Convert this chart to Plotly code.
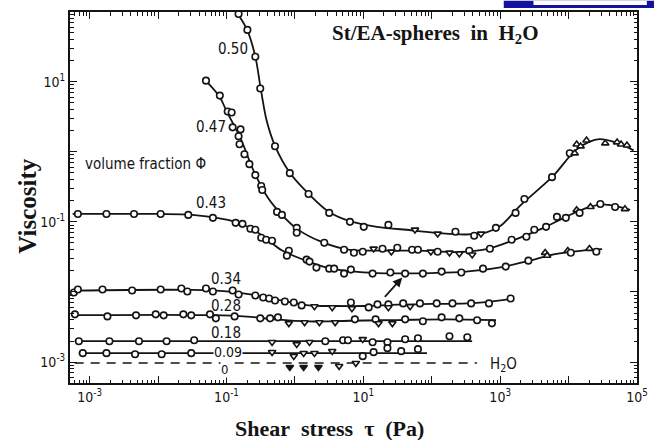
import math
import plotly.graph_objects as go

# ---- measured data: log10(shear stress / Pa), log10(viscosity / Pa s) ----
# symbol codes: o = circle, v = triangle-down, ^ = triangle-up, V = filled triangle-down

lt_050 = [-0.824, -0.695, -0.579, -0.507, -0.291, -0.075, 0.199, 0.501, 0.804, 1.006, 1.366,
          1.755, 2.086, 2.346, 2.620, 2.720, 2.937, 3.225, 3.354, 3.758, 4.017, 4.089, 4.118,
          4.176, 4.262, 4.536, 4.709, 4.767, 4.853]
lv_050 = [1.965, 1.738, 1.355, 0.901, 0.078, -0.305, -0.603, -0.872, -1.000, -1.071, -1.043,
          -1.113, -1.170, -1.142, -1.199, -1.170, -1.085, -0.872, -0.674, -0.362, -0.021, -0.021,
          0.106, 0.078, 0.163, 0.121, 0.135, 0.106, 0.092]
sym_050 = "ooooooooooovvoovooooo^^^^^^^^"

lt_047 = [-1.300, -1.098, -0.983, -0.925, -0.911, -0.795, -0.824, -0.810, -0.738, -0.666, -0.579,
          -0.493, -0.478, -0.262, -0.190, 0.026, 0.026, 0.429, 0.718, 0.862, 0.991, 1.150, 1.280,
          1.409, 1.496, 1.712, 1.798, 1.986, 2.086, 2.259, 2.403, 2.548, 2.591, 2.850, 3.167,
          3.383, 3.499, 3.671, 3.830, 3.960, 4.118, 4.161, 4.320, 4.464, 4.680, 4.824]
lv_047 = [1.014, 0.801, 0.574, 0.560, 0.348, 0.319, 0.220, 0.106, -0.035, -0.177, -0.333,
          -0.489, -0.546, -0.858, -0.901, -1.085, -1.156, -1.298, -1.397, -1.440, -1.426, -1.383,
          -1.383, -1.426, -1.369, -1.397, -1.397, -1.426, -1.426, -1.440, -1.454, -1.411, -1.468,
          -1.383, -1.255, -1.213, -1.113, -1.071, -0.929, -0.943, -0.830, -0.872, -0.787, -0.745,
          -0.787, -0.816]
sym_047 = "ooooooooooooooooooooovovooovovvovooooooo^o^oo^^"

lt_043 = [-3.173, -2.755, -2.352, -1.963, -1.559, -1.199, -0.867, -0.767, -0.651, -0.579, -0.493,
          -0.421, -0.334, -0.089, -0.118, 0.170, 0.213, 0.314, 0.501, 0.573, 0.718, 0.818, 1.135,
          1.395, 1.611, 1.870, 2.144, 2.432, 2.749, 3.081, 3.412, 3.657, 3.686, 3.988, 4.032,
          4.305, 4.406]
lv_043 = [-0.887, -0.887, -0.887, -0.887, -0.901, -0.943, -1.014, -1.028, -1.099, -1.113, -1.227,
          -1.255, -1.270, -1.411, -1.482, -1.539, -1.567, -1.652, -1.667, -1.667, -1.738, -1.681,
          -1.738, -1.723, -1.738, -1.738, -1.709, -1.723, -1.667, -1.638, -1.553, -1.440, -1.482,
          -1.411, -1.440, -1.383, -1.426]
sym_043 = "ooooooooooooooooooooooooooooooo^^^o^o"

lt_034 = [-3.231, -3.173, -2.813, -2.380, -1.963, -1.660, -1.573, -1.300, -1.199, -0.911, -0.824,
          -0.579, -0.464, -0.378, -0.291, -0.147, -0.017, 0.098, 0.285, 0.545, 0.818, 0.833, 1.078,
          1.207, 1.366, 1.366, 1.582, 1.683, 1.827, 2.072, 2.303, 2.576, 2.836, 3.153]
lv_034 = [-2.007, -1.965, -1.965, -1.979, -1.965, -1.950, -1.993, -1.950, -1.993, -1.979, -2.035,
          -2.050, -2.078, -2.092, -2.121, -2.135, -2.149, -2.191, -2.206, -2.220, -2.149, -2.234,
          -2.220, -2.177, -2.177, -2.220, -2.163, -2.206, -2.163, -2.163, -2.163, -2.163, -2.163,
          -2.092]
sym_034 = "oooooooooooooooooovvovooovovoooooo"

lt_028 = [-3.216, -2.741, -2.323, -2.035, -1.919, -1.631, -1.516, -1.242, -1.156, -0.882, -0.507,
          -0.363, -0.248, -0.089, 0.141, 0.357, 0.588, 0.876, 1.179, 1.222, 1.424, 1.611, 1.870,
          2.144, 2.403, 2.663, 2.879]
lv_028 = [-2.319, -2.348, -2.333, -2.319, -2.333, -2.319, -2.333, -2.319, -2.376, -2.348, -2.376,
          -2.376, -2.362, -2.447, -2.433, -2.433, -2.433, -2.390, -2.390, -2.447, -2.447, -2.390,
          -2.418, -2.362, -2.376, -2.404, -2.447]
sym_028 = "ooooooooooooovvvvoovvoooooov"

lt_018 = [-3.159, -2.712, -2.280, -1.876, -1.473, -0.334, 0.026, 0.213, 0.444, 0.703, 0.775,
          0.991, 1.135, 1.352, 1.611, 1.798, 2.259, 2.519]
lv_018 = [-2.702, -2.702, -2.702, -2.702, -2.688, -2.716, -2.745, -2.716, -2.702, -2.688, -2.688,
          -2.674, -2.716, -2.716, -2.674, -2.660, -2.631, -2.645]
sym_018 = "ooooovvvooovoooooo"

lt_009 = [-3.101, -2.755, -2.337, -1.948, -1.516, -0.334, -0.017, 0.127, 0.285, 0.545, 0.991,
          1.150, 1.352, 1.553, 1.798]
lv_009 = [-2.872, -2.872, -2.887, -2.887, -2.872, -2.858, -2.915, -2.872, -2.872, -2.844, -2.915,
          -2.858, -2.801, -2.844, -2.815]
sym_009 = "ooooovvvvvooooo"

lt_h2o = [-0.075, 0.127, 0.343, 0.646, 0.890]
lv_h2o = [-3.071, -3.071, -3.071, -3.057, -3.014]
sym_h2o = "VVVvv"

# ---- smooth fitted curves drawn through each data set ----
fit_050_t = [-0.86, -0.70, -0.58, -0.50, -0.41, -0.29, -0.075, 0.2, 0.5, 0.8, 1.2, 1.7, 2.1,
             2.5, 2.8, 3.0, 3.3, 3.76, 4.1, 4.3, 4.45, 4.7, 4.95]
fit_050_v = [2.0, 1.74, 1.36, 0.90, 0.43, 0.08, -0.30, -0.60, -0.86, -0.99, -1.07, -1.12, -1.16,
             -1.18, -1.15, -1.06, -0.76, -0.36, 0.02, 0.14, 0.18, 0.13, 0.02]
fit_047_t = [-1.30, -1.10, -1.0, -0.8, -0.6, -0.4, -0.2, 0.03, 0.4, 0.8, 1.2, 1.8, 2.4, 2.8,
             3.2, 3.6, 4.0, 4.3, 4.5, 4.7, 4.9]
fit_047_v = [1.01, 0.78, 0.58, 0.20, -0.28, -0.65, -0.89, -1.10, -1.29, -1.40, -1.41, -1.41,
             -1.43, -1.39, -1.26, -1.10, -0.91, -0.79, -0.75, -0.78, -0.83]
fit_043_t = [-3.25, -2.0, -1.5, -1.1, -0.8, -0.5, -0.2, 0.1, 0.5, 1.0, 1.5, 2.0, 2.5, 3.0, 3.4,
             3.8, 4.2, 4.49]
fit_043_v = [-0.887, -0.887, -0.90, -0.95, -1.02, -1.18, -1.40, -1.53, -1.66, -1.72, -1.735,
             -1.73, -1.71, -1.65, -1.56, -1.46, -1.41, -1.39]
fit_034_t = [-3.25, -1.5, -1.0, -0.6, -0.2, 0.2, 0.6, 1.0, 1.5, 2.0, 2.6, 3.15]
fit_034_v = [-1.98, -1.97, -1.99, -2.04, -2.12, -2.19, -2.20, -2.20, -2.18, -2.17, -2.16, -2.10]
fit_028_t = [-3.25, -1.2, -0.7, -0.3, 0.2, 0.8, 1.5, 2.2, 2.94]
fit_028_v = [-2.33, -2.33, -2.35, -2.39, -2.42, -2.41, -2.40, -2.39, -2.40]
fit_018_t = [-3.22, 2.59]
fit_018_v = [-2.702, -2.702]
fit_009_t = [-3.16, 1.93]
fit_009_v = [-2.872, -2.872]
water_t = [-3.22, 2.66]
water_v = [-3.014, -3.014]

INK = "#141414"
SYM = {"o": ("circle", "white"), "v": ("triangle-down", "white"),
       "^": ("triangle-up", "white"), "V": ("triangle-down", INK)}


def tenpow(vals):
    return [10 ** v for v in vals]


fig = go.Figure()

curves = [(fit_050_t, fit_050_v), (fit_047_t, fit_047_v), (fit_043_t, fit_043_v),
          (fit_034_t, fit_034_v), (fit_028_t, fit_028_v), (fit_018_t, fit_018_v),
          (fit_009_t, fit_009_v)]
for ct, cv in curves:
    fig.add_trace(go.Scatter(x=tenpow(ct), y=tenpow(cv), mode="lines",
                             line=dict(color=INK, width=1.8, shape="spline", smoothing=1.0),
                             hoverinfo="skip"))

fig.add_trace(go.Scatter(x=tenpow(water_t), y=tenpow(water_v), mode="lines",
                         line=dict(color=INK, width=1.5, dash="9px,7px"), hoverinfo="skip"))

series = [(lt_050, lv_050, sym_050), (lt_047, lv_047, sym_047), (lt_043, lv_043, sym_043),
          (lt_034, lv_034, sym_034), (lt_028, lv_028, sym_028), (lt_018, lv_018, sym_018),
          (lt_009, lv_009, sym_009), (lt_h2o, lv_h2o, sym_h2o)]
for st, sv, codes in series:
    fig.add_trace(go.Scatter(
        x=tenpow(st), y=tenpow(sv), mode="markers",
        marker=dict(symbol=[SYM[c][0] for c in codes], color=[SYM[c][1] for c in codes],
                    size=6.5, line=dict(color=INK, width=1.6)),
        hoverinfo="skip"))

SANS = "Liberation Sans Narrow, DejaVu Sans Condensed, Roboto, sans-serif"
LABEL_FONT = dict(family=SANS, size=15, color=INK)
TICK_FONT = dict(family=SANS, size=14, color=INK)
SERIF = "Liberation Serif, DejaVu Serif, serif"
TITLE_FONT = dict(family=SERIF, size=21, color=INK)

# curve labels (positions in log10 units, as the axes are logarithmic)
labels = [("0.50", -0.911, 1.468), ("0.47", -1.228, 0.348), ("0.43", -1.228, -0.730),
          ("0.34", -1.012, -1.809), ("0.28", -1.012, -2.206), ("0.18", -1.012, -2.589)]
annotations = []
for text, lx, ly in labels:
    annotations.append(dict(x=lx, y=ly, xref="x", yref="y", text=text, showarrow=False,
                            xanchor="center", yanchor="middle", font=LABEL_FONT))
annotations += [
    dict(x=-0.983, y=-2.86, xref="x", yref="y", text="0.09", showarrow=False,
         xanchor="center", yanchor="middle", font=dict(LABEL_FONT, size=14),
         bgcolor="white", borderpad=0),
    dict(x=-1.026, y=-3.10, xref="x", yref="y", text="0", showarrow=False,
         xanchor="center", yanchor="middle", font=dict(LABEL_FONT, size=13),
         bgcolor="white", borderpad=0),
    dict(x=3.05, y=-3.03, xref="x", yref="y", text="H<sub>2</sub>O", showarrow=False,
         xanchor="center", yanchor="middle", font=LABEL_FONT),
    dict(x=-2.179, y=-0.177, xref="x", yref="y", text="volume fraction Φ", showarrow=False,
         xanchor="center", yanchor="middle", font=LABEL_FONT),
    dict(x=1.568, y=-1.794, xref="x", yref="y", ax=1.294, ay=-2.092, axref="x", ayref="y",
         text="", showarrow=True, arrowhead=2, arrowsize=1.1, arrowwidth=1.7,
         arrowcolor=INK),
    dict(x=0.645, y=0.941, xref="paper", yref="paper", xanchor="center", yanchor="middle",
         text="<b>St/EA-spheres\u00a0\u00a0in\u00a0\u00a0H<sub>2</sub>O</b>",
         showarrow=False, font=TITLE_FONT),
    dict(x=0.457, y=-0.123, xref="paper", yref="paper", xanchor="center", yanchor="middle",
         text="<b>Shear\u00a0\u00a0stress\u00a0\u00a0τ\u00a0\u00a0(Pa)</b>", showarrow=False,
         font=dict(TITLE_FONT, size=22)),
    dict(x=-0.0765, y=0.477, xref="paper", yref="paper", xanchor="center", yanchor="middle",
         text="<b>Viscosity</b>", showarrow=False, textangle=-90,
         font=dict(TITLE_FONT, size=25)),
]

decades_x = list(range(-3, 6))
decades_y = list(range(-3, 2))
minor_x = [d + math.log10(k) for d in range(-4, 5) for k in range(2, 10)]
minor_y = [d + math.log10(k) for d in range(-4, 2) for k in range(2, 10)]


def tick_text(d, shown):
    return f"10<sup>{d}</sup>" if d in shown else ""


axis_style = dict(
    ticks="inside", ticklen=7, tickwidth=1.4, tickcolor=INK,
    showline=True, linewidth=2, linecolor=INK, mirror="ticks",
    showgrid=False, zeroline=False, tickfont=TICK_FONT,
)
fig.update_xaxes(
    type="log", range=[-3.288, 5.0],
    tickvals=[10 ** d for d in decades_x],
    ticktext=[tick_text(d, (-3, -1, 1, 3, 5)) for d in decades_x],
    minor=dict(tickvals=[10 ** m for m in minor_x], ticks="inside", ticklen=3.5,
               tickwidth=1, tickcolor=INK, showgrid=False),
    **axis_style,
)
fig.update_yaxes(
    type="log", range=[-3.298, 1.993],
    tickvals=[10 ** d for d in decades_y],
    ticktext=[tick_text(d, (-3, -1, 1)) for d in decades_y],
    minor=dict(tickvals=[10 ** m for m in minor_y], ticks="inside", ticklen=3.5,
               tickwidth=1, tickcolor=INK, showgrid=False),
    **axis_style,
)

fig.update_layout(
    width=658, height=440,
    margin=dict(l=70, r=13, t=10, b=57),
    paper_bgcolor="white", plot_bgcolor="white",
    showlegend=False,
    annotations=annotations,
    shapes=[
        dict(type="rect", xref="paper", yref="paper", x0=0.765, x1=1.03, y0=1.0107, y1=1.03,
             fillcolor="#12129e", line=dict(width=0), layer="above"),
        dict(type="rect", xref="paper", yref="paper", x0=0.8174, x1=1.0174, y0=1.0188, y1=1.03,
             fillcolor="white", line=dict(width=0), layer="above"),
    ],
)

fig.write_html("out.html")
